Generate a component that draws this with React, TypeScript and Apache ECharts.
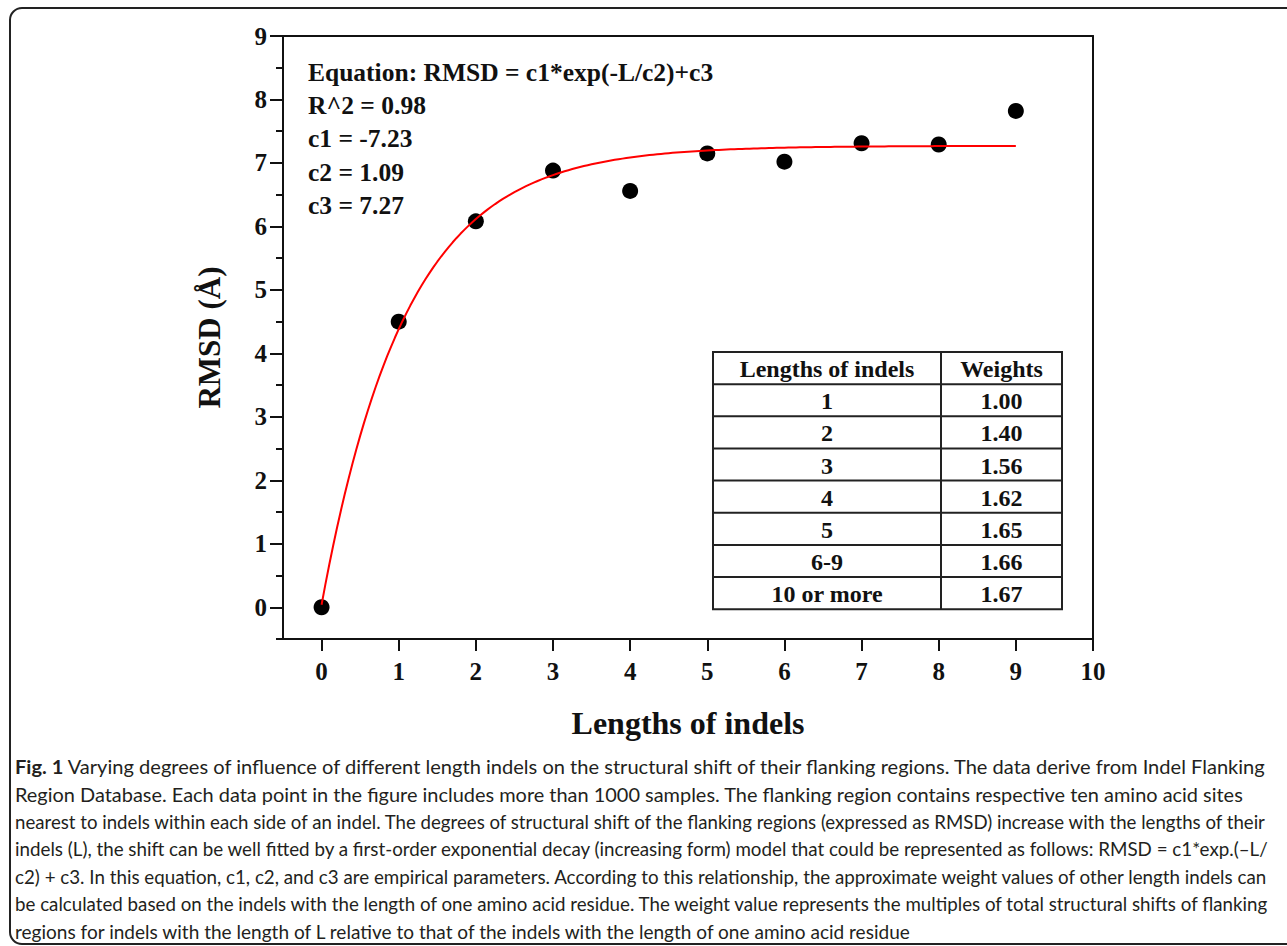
import React, { useEffect, useRef } from "react";
import * as echarts from "echarts";

// ---------- data ----------
const lengths = [0, 1, 2, 3, 4, 5, 6, 7, 8, 9];
const rmsd = [0, 4.5, 6.08, 6.88, 6.56, 7.15, 7.02, 7.31, 7.29, 7.82];

// fitted model parameters shown in the figure: RMSD = c1*exp(-L/c2)+c3
const c1 = -7.23;
const c2 = 1.09;
const c3 = 7.27;
const fitStart = 0;
const fitEnd = 9;

const xTicks = [0, 1, 2, 3, 4, 5, 6, 7, 8, 9, 10];
const yMajorTicks = [0, 1, 2, 3, 4, 5, 6, 7, 8, 9];
const yMinorTicks = [-0.5, 0.5, 1.5, 2.5, 3.5, 4.5, 5.5, 6.5, 7.5, 8.5];

const equationLines = [
  "Equation: RMSD = c1*exp(-L/c2)+c3",
  "R^2 = 0.98",
  "c1 = -7.23",
  "c2 = 1.09",
  "c3 = 7.27",
];

const tableHeader = ["Lengths of indels", "Weights"];
const tableLengths = ["1", "2", "3", "4", "5", "6-9", "10 or more"];
const tableWeights = ["1.00", "1.40", "1.56", "1.62", "1.65", "1.66", "1.67"];

// caption lines: segments [text, bold]
const captionLines: Array<Array<[string, boolean]>> = [
  [
    ["Fig. 1", true],
    [" Varying degrees of influence of different length indels on the structural shift of their flanking regions. The data derive from Indel Flanking", false],
  ],
  [["Region Database. Each data point in the figure includes more than 1000 samples. The flanking region contains respective ten amino acid sites", false]],
  [["nearest to indels within each side of an indel. The degrees of structural shift of the flanking regions (expressed as RMSD) increase with the lengths of their", false]],
  [["indels (L), the shift can be well fitted by a first-order exponential decay (increasing form) model that could be represented as follows: RMSD = c1*exp.(\u2013L/", false]],
  [["c2) + c3. In this equation, c1, c2, and c3 are empirical parameters. According to this relationship, the approximate weight values of other length indels can", false]],
  [["be calculated based on the indels with the length of one amino acid residue. The weight value represents the multiples of total structural shifts of flanking", false]],
  [["regions for indels with the length of L relative to that of the indels with the length of one amino acid residue", false]],
];
const captionRightEdges = [1268, 1244, 1268, 1270, 1268, 1270, 913];

// ---------- styling ----------
const SERIF = "'Liberation Serif', 'Times New Roman', serif";
const SANS = "Lato, 'Open Sans', sans-serif";
const INK = "#111";

export default function App() {
  const ref = useRef<HTMLDivElement>(null);

  useEffect(() => {
    if (!ref.current) return;
    const chart = echarts.init(ref.current, undefined, { renderer: "svg" });

    // fitted curve from the stated model
    const fitData: number[][] = [];
    for (let i = 0; i <= 180; i++) {
      const L = fitStart + ((fitEnd - fitStart) * i) / 180;
      fitData.push([L, c1 * Math.exp(-L / c2) + c3]);
    }

    const graphics: any[] = [];

    // outer frame
    graphics.push({
      type: "rect",
      z: 0,
      shape: { x: 10, y: 8, width: 1300, height: 936, r: 12 },
      style: { fill: "none", stroke: "#222", lineWidth: 2 },
      silent: true,
    });

    // equation text block
    equationLines.forEach((t, i) => {
      graphics.push({
        type: "text",
        x: 308,
        y: 72 + i * 33.4,
        style: {
          text: t,
          font: `bold 25.5px ${SERIF}`,
          fill: INK,
          align: "left",
          verticalAlign: "middle",
        },
      });
    });

    // table
    const tL = 713, tR = 1062, tT = 352, rowH = 32.15, colX = 941;
    const nRows = tableLengths.length + 1;
    const tB = tT + rowH * nRows;
    graphics.push({
      type: "rect",
      shape: { x: tL, y: tT, width: tR - tL, height: tB - tT },
      style: { fill: "#fff", stroke: "#222", lineWidth: 2 },
    });
    for (let r = 1; r < nRows; r++) {
      graphics.push({
        type: "line",
        shape: { x1: tL, y1: tT + r * rowH, x2: tR, y2: tT + r * rowH },
        style: { stroke: "#222", lineWidth: 2 },
      });
    }
    graphics.push({
      type: "line",
      shape: { x1: colX, y1: tT, x2: colX, y2: tB },
      style: { stroke: "#222", lineWidth: 2 },
    });
    const cellText = (text: string, cx: number, cy: number) => ({
      type: "text",
      x: cx,
      y: cy,
      style: {
        text,
        font: `bold 24px ${SERIF}`,
        fill: INK,
        align: "center",
        verticalAlign: "middle",
      },
    });
    const c1x = (tL + colX) / 2;
    const c2x = (colX + tR) / 2;
    graphics.push(cellText(tableHeader[0], c1x, tT + rowH / 2 + 1));
    graphics.push(cellText(tableHeader[1], c2x, tT + rowH / 2 + 1));
    tableLengths.forEach((t, i) => {
      const cy = tT + rowH * (i + 1) + rowH / 2 + 1;
      graphics.push(cellText(t, c1x, cy));
      graphics.push(cellText(tableWeights[i], c2x, cy));
    });

    // caption
    const canvas = document.createElement("canvas");
    const ctx = canvas.getContext("2d")!;
    const capSize = 18.5;
    const capLeft = 15;
    captionLines.forEach((segs, i) => {
      let w = 0;
      let txt = "";
      segs.forEach(([s, b]) => {
        ctx.font = `${b ? "bold " : ""}${capSize}px ${SANS}`;
        w += ctx.measureText(s).width;
        txt += `{${b ? "b" : "r"}|${s}}`;
      });
      const target = captionRightEdges[i] - capLeft;
      const sx = w > 0 ? target / w : 1;
      graphics.push({
        type: "text",
        x: capLeft,
        y: 767 + i * 27.4,
        scaleX: sx,
        style: {
          text: txt,
          fill: "#231f20",
          align: "left",
          verticalAlign: "middle",
          rich: {
            b: { fontFamily: SANS, fontSize: capSize, fontWeight: "bold", fill: "#231f20" },
            r: { fontFamily: SANS, fontSize: capSize, fontWeight: "normal", fill: "#231f20" },
          },
        },
      });
    });

    const axisLineStyle = { color: INK, width: 2 };
    const labelStyle = {
      fontFamily: SERIF,
      fontWeight: "bold" as const,
      fontSize: 25,
      color: INK,
    };

    const option: any = {
      animation: false,
      backgroundColor: "#fff",
      grid: { left: 283, top: 36, right: 194, bottom: 307, containLabel: false },
      xAxis: [
        {
          type: "value",
          min: -0.5,
          max: 10,
          position: "bottom",
          name: "Lengths of indels",
          nameLocation: "middle",
          nameGap: 68,
          nameTextStyle: { fontFamily: SERIF, fontWeight: "bold", fontSize: 32, color: INK },
          axisLine: { show: true, onZero: false, lineStyle: axisLineStyle },
          axisTick: { show: true, inside: false, length: 12, lineStyle: axisLineStyle, customValues: xTicks },
          axisLabel: { show: true, customValues: xTicks, margin: 20, ...labelStyle },
          splitLine: { show: false },
        },
        {
          type: "value",
          min: -0.5,
          max: 10,
          position: "top",
          axisLine: { show: true, onZero: false, lineStyle: axisLineStyle },
          axisTick: { show: false },
          axisLabel: { show: false },
          splitLine: { show: false },
        },
      ],
      yAxis: [
        {
          type: "value",
          min: -0.5,
          max: 9,
          position: "left",
          name: "RMSD (\u00c5)",
          nameLocation: "middle",
          nameGap: 58,
          nameRotate: 90,
          nameTextStyle: { fontFamily: SERIF, fontWeight: "bold", fontSize: 31, color: INK },
          axisLine: { show: true, onZero: false, lineStyle: axisLineStyle },
          axisTick: { show: true, inside: false, length: 13, lineStyle: axisLineStyle, customValues: yMajorTicks },
          axisLabel: { show: true, customValues: yMajorTicks, margin: 16, ...labelStyle },
          splitLine: { show: false },
        },
        {
          type: "value",
          min: -0.5,
          max: 9,
          position: "left",
          axisLine: { show: false, onZero: false },
          axisTick: { show: true, inside: false, length: 7, lineStyle: axisLineStyle, customValues: yMinorTicks },
          axisLabel: { show: false },
          splitLine: { show: false },
        },
        {
          type: "value",
          min: -0.5,
          max: 9,
          position: "right",
          axisLine: { show: true, onZero: false, lineStyle: axisLineStyle },
          axisTick: { show: false },
          axisLabel: { show: false },
          splitLine: { show: false },
        },
      ],
      series: [
        {
          type: "scatter",
          xAxisIndex: 0,
          yAxisIndex: 0,
          symbol: "circle",
          symbolSize: 16,
          itemStyle: { color: "#000", opacity: 1 },
          data: lengths.map((x, i) => [x, rmsd[i]]),
          z: 2,
        },
        {
          type: "line",
          xAxisIndex: 0,
          yAxisIndex: 0,
          showSymbol: false,
          symbol: "none",
          lineStyle: { color: "#ff0000", width: 2 },
          data: fitData,
          z: 3,
        },
      ],
      graphic: graphics,
    };

    chart.setOption(option);
    return () => chart.dispose();
  }, []);

  return (
    <div
      ref={ref}
      style={{ position: "fixed", left: 0, top: 0, width: 1287, height: 946, background: "#fff" }}
    />
  );
}
